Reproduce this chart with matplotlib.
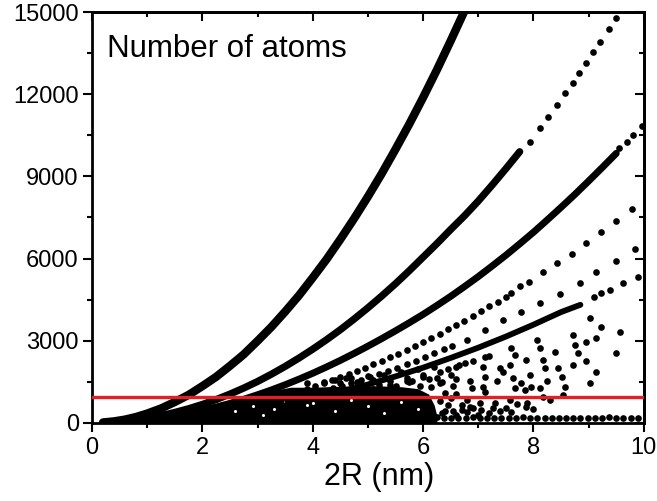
import matplotlib
matplotlib.use("Agg")
import matplotlib.pyplot as plt
from matplotlib.ticker import MultipleLocator

plt.rcParams["font.family"] = ["Liberation Sans", "DejaVu Sans"]

# solid branch 1 (steepest)
a_x = [0.2, 0.4, 0.6, 0.8, 1.0, 1.25, 1.5, 1.75, 2.0, 2.25, 2.5, 2.75, 3.0, 3.25, 3.5, 3.75,
       4.0, 4.25, 4.5, 4.75, 5.0, 5.25, 5.5, 5.75, 6.0, 6.25, 6.5, 6.75, 6.9]
a_y = [15, 55, 120, 215, 340, 525, 760, 1020, 1340, 1680, 2080, 2500, 2990, 3500, 4060, 4650,
       5300, 5970, 6700, 7460, 8260, 9100, 9990, 10910, 11880, 12890, 13950, 15040, 15700]

# branch 2: solid part then separate dots
b_x = [0.5, 0.75, 1.0, 1.25, 1.5, 1.75, 2.0, 2.25, 2.5, 2.75, 3.0, 3.25, 3.5, 3.75, 4.0, 4.25,
       4.5, 4.75, 5.0, 5.25, 5.5, 5.75, 6.0, 6.25, 6.5, 6.75, 7.0, 7.25, 7.5, 7.75]
b_y = [42, 95, 168, 262, 380, 515, 672, 850, 1050, 1270, 1510, 1775, 2060, 2365, 2690, 3035,
       3400, 3790, 4200, 4630, 5080, 5555, 6050, 6545, 7060, 7560, 8100, 8680, 9280, 9900]
b_dot_x = [7.93, 8.12, 8.27, 8.42, 8.57, 8.72, 8.83, 8.95, 9.08, 9.21, 9.37, 9.50]
b_dot_y = [10270, 10760, 11180, 11610, 12030, 12400, 12790, 13150, 13530, 13920, 14370, 14770]

# branch 3
c_x = [1.0, 1.25, 1.5, 1.75, 2.0, 2.25, 2.5, 2.75, 3.0, 3.25, 3.5, 3.75, 4.0, 4.25, 4.5, 4.75,
       5.0, 5.25, 5.5, 5.75, 6.0, 6.25, 6.5, 6.75, 7.0, 7.25, 7.5, 7.75, 8.0, 8.25, 8.5, 8.75,
       9.0, 9.25, 9.5]
c_y = [115, 180, 255, 350, 455, 575, 710, 860, 1025, 1200, 1390, 1595, 1810, 2040, 2280, 2535,
       2800, 3075, 3360, 3655, 3960, 4285, 4620, 4975, 5340, 5725, 6120, 6535, 6960, 7410, 7870, 8340,
       8830, 9330, 9840]
c_dot_x = [9.55, 9.69, 9.81, 9.96]
c_dot_y = [10020, 10270, 10510, 10840]

# branch 4 (dotted)
d_x = [3.0, 3.15, 3.3, 3.45, 3.6, 3.75, 3.9, 4.05, 4.2, 4.35, 4.5, 4.65, 4.8, 4.95, 5.1, 5.25,
       5.4, 5.55, 5.7, 5.85, 6.0, 6.15, 6.3, 6.45, 6.6, 6.75, 6.9, 7.05, 7.2, 7.35, 7.5, 7.6,
       7.75, 7.91, 8.18, 8.42, 8.69, 8.96, 9.23, 9.49, 9.78]
d_y = [740, 815, 895, 975, 1065, 1155, 1250, 1345, 1445, 1550, 1660, 1775, 1890, 2010, 2135, 2260,
       2390, 2525, 2665, 2805, 2950, 3100, 3255, 3410, 3570, 3735, 3905, 4075, 4250, 4430, 4610, 4740,
       4980, 5160, 5490, 5830, 6170, 6580, 6980, 7380, 7800]

# branch 5 (dotted)
e_x = [3.2, 3.37, 3.53, 3.7, 3.87, 4.03, 4.2, 4.37, 4.53, 4.7, 4.87, 5.03, 5.2, 5.37, 5.53, 5.7,
       5.87, 6.03, 6.2, 6.37, 6.53, 6.79, 7.12, 7.45, 7.78, 8.12, 8.48, 8.84, 9.14, 9.50, 9.84]
e_y = [675, 750, 820, 905, 990, 1070, 1165, 1260, 1355, 1460, 1565, 1670, 1785, 1905, 2020, 2145,
       2275, 2400, 2535, 2680, 2815, 3030, 3390, 3760, 4060, 4370, 4710, 5120, 5490, 5920, 6340]

# branch 6: dense part then dots
f_x = [3.6, 4.0, 4.5, 5.0, 5.5, 6.0, 6.5, 7.0, 7.5, 8.0, 8.5, 8.85]
f_y = [730, 900, 1135, 1400, 1695, 2015, 2370, 2745, 3150, 3585, 4045, 4310]
f_dot_x = [9.09, 9.22, 9.38, 9.63, 9.90]
f_dot_y = [4610, 4730, 4850, 5100, 5340]

# branch 7 (dotted)
g_x = [4.8, 5.1, 5.4, 5.7, 6.0, 6.3, 6.6, 6.9, 7.2]
g_y = [1080, 1220, 1370, 1530, 1690, 1865, 2050, 2240, 2440]

# scattered points between the branches
cloud_x = [9.57, 9.50, 9.23, 9.14, 9.02, 8.96, 8.96, 9.14, 9.02, 8.72, 8.75, 8.81, 8.72, 8.39,
           8.45, 8.51, 8.57, 8.06, 8.12, 8.18, 8.21, 8.24, 8.12, 8.18, 7.87, 7.93, 7.96, 7.78,
           7.84, 7.87, 7.63, 7.66, 7.57, 7.60, 7.66, 7.57, 7.45, 7.39, 7.33, 7.27, 7.12, 7.09,
           7.12, 7.09, 7.12, 7.03, 6.76, 6.85, 6.88, 6.79, 6.85, 6.70, 7.51, 8.54, 7.88,
           4.4, 4.6, 4.8, 5.0, 5.1, 5.3, 5.4, 5.6, 5.7, 5.8, 5.9, 6.0, 6.1, 6.2, 6.25, 6.3,
           6.35, 6.45, 6.5, 6.55, 6.6, 6.65, 6.4, 6.5, 6.3, 6.45, 6.6, 6.55, 6.35,
           6.4, 6.6, 6.7, 6.8, 6.9, 7.0, 7.05, 7.2, 7.3, 7.4, 7.6, 7.7, 8.0, 8.3,
           3.9, 4.2, 4.5, 4.7, 4.9, 5.2, 5.5, 5.75, 5.95, 6.15]
cloud_y = [3330, 2540, 3490, 3090, 3820, 2970, 2240, 1870, 1450, 3210, 2850, 2540, 2120, 2600,
           2000, 1690, 1325, 3030, 2730, 2300, 2000, 1510, 1270, 960, 2300, 1750, 1325, 1450,
           1200, 595, 1630, 1270, 840, 2730, 2480, 2120, 1870, 2000, 1510, 540, 2420, 2050,
           1690, 1325, 1140, 720, 2180, 1510, 1270, 840, 595, 475, 540, 1020, 730,
           1550, 1620, 1500, 1700, 1580, 1750, 1520, 1850, 1650, 1520, 1950, 1750, 1600, 2050, 1650, 1450,
           1500, 1950, 1750, 1350, 1600, 2100, 1100, 900, 800, 650, 1050, 450, 350,
           420, 300, 650, 380, 560, 300, 480, 350, 720, 420, 380, 700, 520, 820,
           1450, 1500, 1450, 1650, 1350, 1400, 1350, 1500, 1350, 1300]

# lowest row of points
base_x = [6.25, 6.38, 6.51, 6.64, 6.77, 6.9, 7.03, 7.16, 7.29, 7.42, 7.55, 7.68, 7.81, 7.94, 8.07,
          8.2, 8.33, 8.46, 8.59, 8.72, 8.85, 8.98, 9.11, 9.24, 9.37, 9.5, 9.63, 9.76, 9.89]
base_y = [200, 190, 195, 185, 190, 200, 185, 190, 195, 190, 185, 190, 200, 190, 185,
          190, 195, 190, 185, 190, 195, 190, 185, 190, 200, 190, 185, 190, 195]

# upper edge of the densely filled region near the origin
blob_x = [0.15, 0.5, 1.0, 1.34, 1.7, 2.0, 2.4, 2.8, 3.2, 3.6, 4.0, 4.4, 4.8, 5.2, 5.6, 5.9, 6.1, 6.2, 6.25]
blob_y = [0, 40, 170, 300, 480, 640, 720, 920, 1150, 1300, 1300, 1330, 1350, 1350, 1320, 1250, 1050, 650, 250]

# small gaps inside the filled region
hole_x = [2.6, 2.92, 3.1, 3.3, 3.5, 3.9, 4.0, 4.4, 4.7, 5.0, 5.3, 5.6, 5.9]
hole_y = [450, 600, 300, 500, 800, 650, 730, 450, 850, 600, 350, 750, 500]

threshold = 930

fig = plt.figure(figsize=(6.57, 5.01), dpi=100)
ax = fig.add_axes([0.140, 0.156, 0.840, 0.820])

ax.fill_between(blob_x, 0, blob_y, color="black", lw=0, zorder=2)
ax.plot(hole_x, hole_y, "o", color="white", ms=2.2, mew=0, zorder=2.5)
ax.plot(a_x, a_y, color="black", lw=6.0, solid_capstyle="round", zorder=3)
ax.plot(b_x, b_y, color="black", lw=5.2, solid_capstyle="round", zorder=3)
ax.plot(c_x, c_y, color="black", lw=5.0, solid_capstyle="round", zorder=3)
ax.plot(f_x, f_y, color="black", lw=4.2, solid_capstyle="round", zorder=3)

ms = 4.8
for xs, ys in [(b_dot_x, b_dot_y), (c_dot_x, c_dot_y), (d_x, d_y), (e_x, e_y),
               (f_dot_x, f_dot_y), (g_x, g_y), (cloud_x, cloud_y), (base_x, base_y)]:
    ax.plot(xs, ys, "o", color="black", ms=ms, mec="black", mew=0, zorder=3)

ax.axhline(threshold, color="#e31e24", lw=2.4, zorder=4)

ax.set_xlim(0, 10)
ax.set_ylim(0, 15000)
ax.xaxis.set_major_locator(MultipleLocator(2))
ax.xaxis.set_minor_locator(MultipleLocator(1))
ax.yaxis.set_major_locator(MultipleLocator(3000))
ax.yaxis.set_minor_locator(MultipleLocator(1500))
ax.tick_params(which="both", direction="out", width=1.5, labelsize=17)
ax.tick_params(which="major", length=6.5)
ax.tick_params(which="minor", length=3.5)
ax.tick_params(axis="x", pad=4)
ax.tick_params(axis="y", pad=3)

for side in ["top", "right"]:
    sec = ax.secondary_xaxis("top") if side == "top" else ax.secondary_yaxis("right")
    axis = sec.xaxis if side == "top" else sec.yaxis
    axis.set_major_locator(MultipleLocator(2 if side == "top" else 3000))
    axis.set_minor_locator(MultipleLocator(1 if side == "top" else 1500))
    sec.tick_params(which="both", direction="in", width=1.5, labeltop=False, labelright=False)
    sec.tick_params(which="major", length=6.5)
    sec.tick_params(which="minor", length=3.5)
    for sp in sec.spines.values():
        sp.set_linewidth(2.0)

for sp in ax.spines.values():
    sp.set_linewidth(2.0)

ax.set_xlabel("2R (nm)", fontsize=22, labelpad=2, x=0.52)
ax.text(0.027, 0.89, "Number of atoms", transform=ax.transAxes, fontsize=22.5,
        va="baseline", ha="left")

fig.savefig("out.png", dpi=100)
